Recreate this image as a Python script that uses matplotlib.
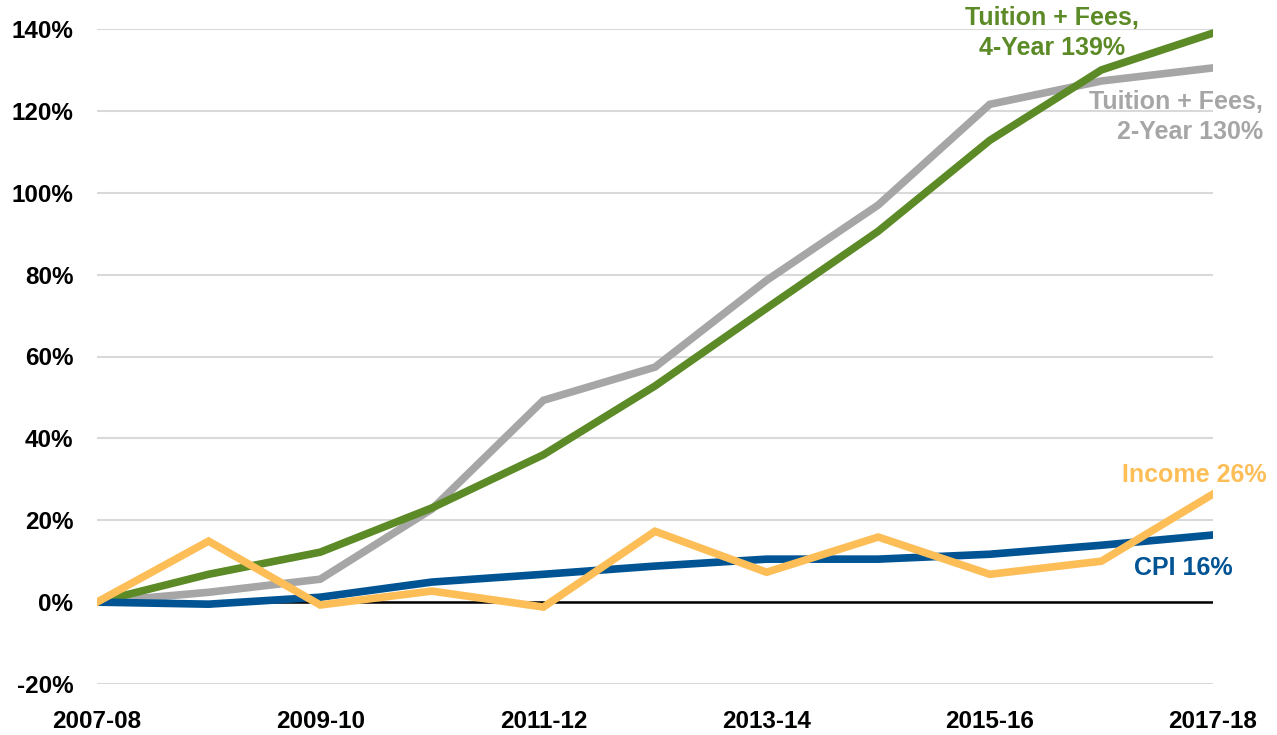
import matplotlib.pyplot as plt
from matplotlib.ticker import FuncFormatter

plt.rcParams['font.family'] = ['Liberation Sans', 'DejaVu Sans']
plt.rcParams['font.weight'] = 'bold'

years = ['2007-08', '2008-09', '2009-10', '2010-11', '2011-12', '2012-13',
         '2013-14', '2014-15', '2015-16', '2016-17', '2017-18']
tuition_4yr = [0, 6.8, 12.2, 23.0, 36.0, 52.8, 71.8, 90.6, 112.8, 130.0, 139.0]
tuition_2yr = [0, 2.4, 5.6, 22.7, 49.3, 57.4, 78.6, 97.0, 121.6, 127.3, 130.5]
income = [0, 14.9, -0.7, 2.7, -1.2, 17.3, 7.3, 15.9, 6.8, 10.0, 26.4]
cpi = [0, -0.5, 1.2, 4.9, 6.8, 8.8, 10.5, 10.5, 11.7, 13.9, 16.4]

green = '#5b8a26'
grey = '#a6a6a6'
gold = '#fdbe57'
blue = '#005494'

fig = plt.figure(figsize=(12.77, 7.35), dpi=100)
ax = fig.add_axes([97/1277, 1-684/735, (1213-97)/1277, (684-29)/735])

x = range(len(years))
ax.plot(x, tuition_2yr, color=grey, lw=5.5, zorder=3, solid_joinstyle='miter')
ax.plot(x, tuition_4yr, color=green, lw=5.5, zorder=4, solid_joinstyle='miter')
ax.plot(x, cpi, color=blue, lw=5.5, zorder=4, solid_joinstyle='miter')
ax.plot(x, income, color=gold, lw=5.5, zorder=5, solid_joinstyle='miter')
ax.axhline(0, color='black', lw=1.8, zorder=2)

ax.set_xlim(0, len(years) - 1)
ax.set_ylim(-20, 140)
ax.set_yticks(range(-20, 141, 20))
ax.yaxis.set_major_formatter(FuncFormatter('{:.0f}%'.format))
ax.set_xticks(list(x)[::2])
ax.set_xticklabels(years[::2])
ax.grid(axis='y', color='#d9d9d9', lw=1.5)
ax.set_axisbelow(True)
for spine in ax.spines.values():
    spine.set_visible(False)
ax.tick_params(length=0, labelsize=17.5)
ax.tick_params(axis='y', pad=17)
ax.tick_params(axis='x', pad=19)

# end-of-line labels
ax.text(8.56, 139, 'Tuition + Fees,\n4-Year 139%', color=green, fontsize=18,
        ha='center', va='center', linespacing=1.3, clip_on=False)
ax.text(10.45, 118.5, 'Tuition + Fees,\n2-Year 130%', color=grey, fontsize=18,
        ha='right', va='center', linespacing=1.3, clip_on=False)
ax.text(10.48, 31, 'Income 26%', color=gold, fontsize=18,
        ha='right', va='center', clip_on=False)
ax.text(9.73, 8.3, 'CPI 16%', color=blue, fontsize=18,
        ha='center', va='center', clip_on=False)

fig.savefig('out.png', dpi=100)
